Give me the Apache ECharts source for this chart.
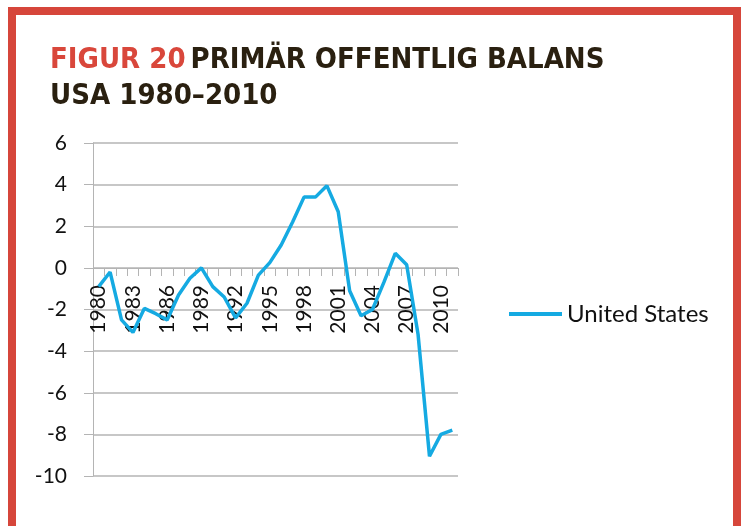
<!DOCTYPE html>
<html>
<head>
<meta charset="utf-8">
<script src="https://cdn.jsdelivr.net/npm/echarts@6/dist/echarts.min.js"></script>
<style>
  html, body { margin: 0; padding: 0; background: #fff; }
  #main { width: 742px; height: 526px; }
</style>
</head>
<body>
<div id="main"></div>
<script>
var years = ['1980', '1981', '1982', '1983', '1984', '1985', '1986', '1987', '1988', '1989',
    '1990', '1991', '1992', '1993', '1994', '1995', '1996', '1997', '1998', '1999',
    '2000', '2001', '2002', '2003', '2004', '2005', '2006', '2007', '2008', '2009',
    '2010', '2011'];
var usBalance = [-0.9, -0.2, -2.5, -3.1, -1.95, -2.2, -2.5, -1.3, -0.5, 0.0,
    -0.9, -1.4, -2.4, -1.7, -0.35, 0.25, 1.1, 2.2, 3.4, 3.4,
    3.95, 2.7, -1.1, -2.3, -2.0, -0.7, 0.7, 0.15, -3.2, -9.05,
    -8.0, -7.8];
var seriesName = 'United States';

var chart = echarts.init(document.getElementById('main'));
var labelFont = 'Lato, "Open Sans", sans-serif';
var titleFont = '"DejaVu Sans Condensed", "Liberation Sans Narrow", sans-serif';
var gridColor = '#b4b4b4';

var option = {
    animation: false,
    graphic: [{
        type: 'rect',
        shape: { x: 12, y: 11, width: 725, height: 540 },
        style: { fill: 'none', stroke: '#d6463b', lineWidth: 8 }
    }],
    title: {
        left: 45,
        top: 37,
        text: '{r|FIGUR 20} {d|PRIMÄR OFFENTLIG BALANS}\n{d|USA 1980–2010}',
        textStyle: {
            rich: {
                r: { color: '#d9473b', fontFamily: titleFont, fontWeight: 'bold', fontSize: 29, lineHeight: 36 },
                d: { color: '#2a2010', fontFamily: titleFont, fontWeight: 'bold', fontSize: 29, lineHeight: 36 }
            }
        }
    },
    legend: {
        left: 504,
        top: 297,
        icon: 'rect',
        itemWidth: 53,
        itemHeight: 4,
        itemGap: 4,
        textStyle: { fontFamily: labelFont, fontSize: 24, color: '#111' },
        data: [seriesName]
    },
    grid: {
        left: 93,
        right: 284,
        top: 143,
        bottom: 50,
        containLabel: false,
        outerBoundsMode: 'none'
    },
    xAxis: {
        type: 'category',
        data: years,
        boundaryGap: true,
        offset: -208,
        axisLine: { onZero: false, lineStyle: { color: gridColor, width: 1 } },
        axisTick: { show: true, interval: 0, length: 8, lineStyle: { color: gridColor } },
        axisLabel: {
            interval: 2,
            rotate: 90,
            margin: 17,
            fontFamily: labelFont,
            fontSize: 21,
            color: '#111'
        },
        splitLine: { show: false }
    },
    yAxis: {
        type: 'value',
        min: -10,
        max: 6,
        interval: 2,
        axisLine: { show: true, lineStyle: { color: gridColor } },
        axisTick: { show: true, length: 9, lineStyle: { color: gridColor } },
        axisLabel: { margin: 26, fontFamily: labelFont, fontSize: 21, color: '#111' },
        splitLine: { lineStyle: { color: gridColor, width: 1.5 } }
    },
    series: [{
        name: seriesName,
        type: 'line',
        data: usBalance,
        showSymbol: false,
        symbol: 'none',
        itemStyle: { color: '#15aae2' },
        lineStyle: { color: '#15aae2', width: 3.5 }
    }]
};
chart.setOption(option);
</script>
</body>
</html>
